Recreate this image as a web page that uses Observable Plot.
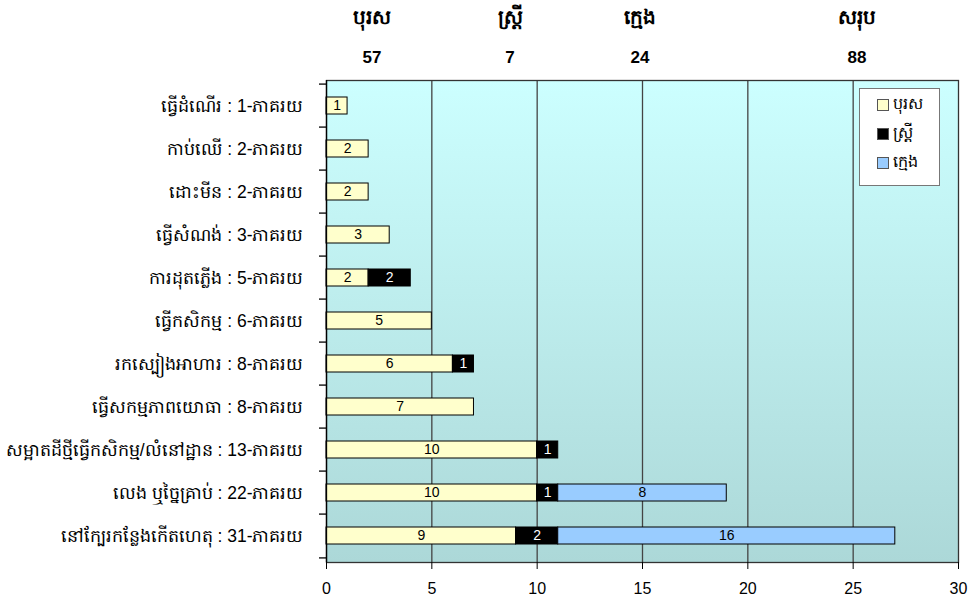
<!DOCTYPE html>
<html>
<head>
<meta charset="utf-8">
<script src="https://cdn.jsdelivr.net/npm/d3@7"></script>
<script src="https://cdn.jsdelivr.net/npm/@observablehq/plot@0.6"></script>
<style>
  html, body { margin: 0; padding: 0; background: #fff; }
  #wrap { position: relative; width: 968px; height: 604px; overflow: hidden; font-family: "Liberation Sans", Arial, sans-serif; }
  .hdr { position: absolute; transform: translateX(-50%); font-weight: bold; color: #000; white-space: nowrap; }
  .hk { top: 4px; font-size: 20px; }
  .hn { top: 48px; font-size: 17px; }
  #legend { position: absolute; left: 859px; top: 88px; width: 81px; height: 98px; background: #fff; border: 1px solid #777; box-sizing: border-box; }
  .li { position: absolute; left: 17px; height: 18px; display: flex; align-items: center; font-size: 16px; }
  .sw { width: 10px; height: 10px; border: 1px solid #555; margin-right: 4px; }
</style>
</head>
<body>
<div id="wrap"></div>
<script>
const categories = [
  "ធ្វើដំណើរ : 1-ភាគរយ",
  "កាប់ឈើ : 2-ភាគរយ",
  "ដោះមីន : 2-ភាគរយ",
  "ធ្វើសំណង់ : 3-ភាគរយ",
  "ការដុតភ្លើង : 5-ភាគរយ",
  "ធ្វើកសិកម្ម : 6-ភាគរយ",
  "រកស្បៀងអាហារ : 8-ភាគរយ",
  "ធ្វើសកម្មភាពយោធា : 8-ភាគរយ",
  "សម្អាតដីថ្មីធ្វើកសិកម្ម/លំនៅដ្ឋាន : 13-ភាគរយ",
  "លេង ឬច្នៃគ្រាប់ : 22-ភាគរយ",
  "នៅក្បែរកន្លែងកើតហេតុ : 31-ភាគរយ"
];
const seriesNames = ["បុរស", "ស្ត្រី", "ក្មេង"];
const men      = [1, 2, 2, 3, 2, 5, 6, 7, 10, 10, 9];
const women    = [0, 0, 0, 0, 2, 0, 1, 0, 1, 1, 2];
const children = [0, 0, 0, 0, 0, 0, 0, 0, 0, 8, 16];
const seriesColors = ["#ffffcc", "#000000", "#99ccff"];
const totalLabel = "សរុប";
const totals = [57, 7, 24, 88];
const xTicks = [0, 5, 10, 15, 20, 25, 30];

const seriesValues = [men, women, children];
const data = [];
categories.forEach((c, i) => {
  seriesValues.forEach((vals, s) => {
    if (vals[i] > 0) data.push({cat: c, series: seriesNames[s], value: vals[i]});
  });
});

const W = 968, H = 604, mT = 80, mB = 42, mL = 326, mR = 10;
const FONT = '"Liberation Sans", Arial, sans-serif';
const step = (H - mT - mB) / categories.length;

const chart = Plot.plot({
  width: W,
  height: H,
  marginTop: mT,
  marginBottom: mB,
  marginLeft: mL,
  marginRight: mR,
  style: {fontFamily: FONT, background: "transparent", overflow: "visible"},
  x: {domain: [0, 30]},
  y: {domain: categories, paddingInner: 0.6, paddingOuter: 0.3},
  color: {domain: seriesNames, range: seriesColors},
  marks: [
    Plot.frame({fill: "url(#bgGrad)", stroke: "none"}),
    Plot.ruleX(xTicks.slice(1, -1), {stroke: "#444", strokeWidth: 1.3}),
    Plot.frame({stroke: "#333", strokeWidth: 1.3}),
    Plot.barX(data, {x: "value", y: "cat", fill: "series", stroke: "#000", strokeWidth: 1}),
    Plot.text(data, Plot.stackX({x: "value", y: "cat", text: d => d.series !== seriesNames[1] ? String(d.value) : "", fill: "#000", fontSize: 14})),
    Plot.text(data, Plot.stackX({x: "value", y: "cat", text: d => d.series === seriesNames[1] ? String(d.value) : "", fill: "#fff", fontSize: 14})),
    Plot.axisX({ticks: xTicks, tickSize: 7, tickPadding: 13, fontSize: 16, stroke: "#000", label: null, color: "#000"}),
    Plot.ruleX([0], {stroke: "#000", strokeWidth: 1.3}),
    Plot.ruleY(categories, {y: d => d, x1: 0, x2: 0, insetLeft: -7, insetRight: 0, dy: -step / 2, stroke: "#000", strokeWidth: 1.3}),
    Plot.ruleY(categories.slice(-1), {y: d => d, x1: 0, x2: 0, insetLeft: -7, insetRight: 0, dy: step / 2, stroke: "#000", strokeWidth: 1.3}),
    Plot.axisY({tickSize: 0, tickPadding: 23, fontSize: 17.5, label: null, color: "#000"})
  ]
});

const svg = d3.select(chart);
const defs = svg.insert("defs", ":first-child");
const g = defs.append("linearGradient").attr("id", "bgGrad").attr("x1", 0).attr("y1", 0).attr("x2", 0).attr("y2", 1);
g.append("stop").attr("offset", "0%").attr("stop-color", "#ccffff");
g.append("stop").attr("offset", "100%").attr("stop-color", "#acd8d8");

const wrap = document.getElementById("wrap");
wrap.appendChild(chart);

// header
const hdrNames = [...seriesNames, totalLabel];
const hdrX = [372, 510, 640, 857];
hdrNames.forEach((nm, i) => {
  const a = document.createElement("div");
  a.className = "hdr hk"; a.style.left = hdrX[i] + "px"; a.textContent = nm;
  wrap.appendChild(a);
  const b = document.createElement("div");
  b.className = "hdr hn"; b.style.left = hdrX[i] + "px"; b.textContent = totals[i];
  wrap.appendChild(b);
});

// legend
const lg = document.createElement("div");
lg.id = "legend";
seriesNames.forEach((nm, i) => {
  const it = document.createElement("div");
  it.className = "li"; it.style.top = (7 + i * 29) + "px";
  const sw = document.createElement("span");
  sw.className = "sw"; sw.style.background = seriesColors[i];
  const tx = document.createElement("span"); tx.textContent = nm;
  it.appendChild(sw); it.appendChild(tx);
  lg.appendChild(it);
});
wrap.appendChild(lg);
</script>
</body>
</html>
